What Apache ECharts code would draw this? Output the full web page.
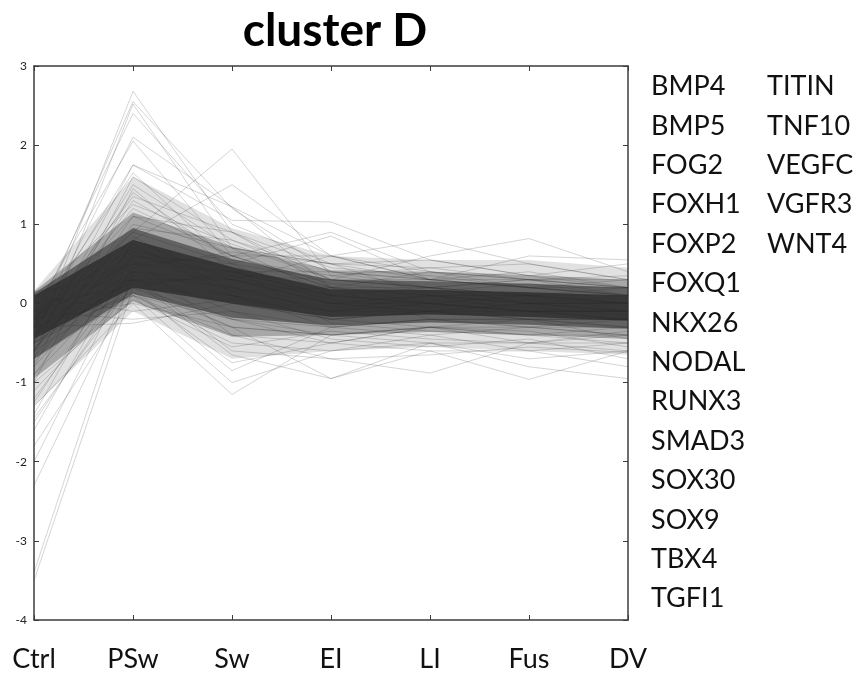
<!DOCTYPE html>
<html>
<head>
<meta charset="utf-8">
<script src="https://cdn.jsdelivr.net/npm/echarts@6/dist/echarts.min.js"></script>
<style>
  html, body { margin: 0; padding: 0; background: #fff; }
  #main { width: 857px; height: 675px; }
</style>
</head>
<body>
<div id="main"></div>
<script>
// stages on the x axis
const stages = ["Ctrl", "PSw", "Sw", "EI", "LI", "Fus", "DV"];
const yTicks = { min: -4, max: 3, step: 1 };

// genes listed to the right of the plot
const genesLeft = ["BMP4", "BMP5", "FOG2", "FOXH1", "FOXP2", "FOXQ1", "NKX26",
  "NODAL", "RUNX3", "SMAD3", "SOX30", "SOX9", "TBX4", "TGFI1"];
const genesRight = ["TITIN", "TNF10", "VEGFC", "VGFR3", "WNT4"];

// density of the overlapping profiles, as nested bands (lower / upper edge per stage)
const outerLow = [-1.3, -0.1, -0.7, -0.6, -0.55, -0.6, -0.65];
const outerHigh = [0.16, 1.6, 0.95, 0.6, 0.55, 0.55, 0.45];
const midLow = [-0.95, 0.02, -0.42, -0.4, -0.36, -0.4, -0.45];
const midHigh = [0.15, 1.15, 0.72, 0.42, 0.4, 0.36, 0.3];
const innerLow = [-0.7, 0.12, -0.18, -0.28, -0.24, -0.27, -0.32];
const innerHigh = [0.13, 0.95, 0.56, 0.3, 0.28, 0.25, 0.2];
const coreLow = [-0.45, 0.2, 0.0, -0.17, -0.14, -0.17, -0.22];
const coreHigh = [0.1, 0.8, 0.46, 0.18, 0.17, 0.14, 0.1];

// profiles peaking high at PSw
const highPSw = [
  [-0.5, 2.68, 0.9, 0.3, 0.2, 0.1, 0.0],
  [-0.3, 2.55, 1.2, 0.4, 0.3, 0.2, 0.1],
  [-0.7, 2.52, 0.7, 0.1, 0.0, -0.1, -0.1],
  [-0.2, 2.4, 1.0, 0.5, 0.3, 0.3, 0.2],
  [-0.4, 2.1, 1.22, 0.2, 0.1, 0.0, -0.1],
  [-0.1, 2.05, 0.6, 0.2, 0.2, 0.1, 0.0],
  [-0.6, 1.75, 1.05, 1.03, 0.55, 0.35, 0.2],
  [-0.3, 1.75, 1.22, 0.6, 0.3, 0.2, 0.1],
  [-0.2, 1.65, 0.5, 0.0, 0.0, -0.1, -0.1],
  [-0.8, 1.6, 0.8, 0.3, 0.2, 0.3, 0.1],
  [-0.5, 1.5, 0.7, 0.5, 0.1, 0.0, -0.1],
  [-1.0, 1.45, 0.4, 0.1, 0.0, 0.1, 0.0],
  [-0.3, 1.35, 0.9, 0.2, 0.4, 0.2, 0.1],
  [-0.6, 1.3, 0.6, 0.6, 0.3, 0.4, 0.2],
  [0.05, 1.25, 0.75, 0.3, 0.2, 0.0, 0.0],
  [-0.45, 1.4, 0.55, 0.35, 0.45, 0.3, 0.35]
];

// profiles starting very low at Ctrl
const lowCtrl = [
  [-3.5, 0.2, 0.1, -0.1, 0.0, -0.1, -0.2],
  [-3.4, 0.4, 0.2, 0.0, -0.1, 0.0, -0.1],
  [-2.3, 0.3, 0.0, -0.2, -0.1, -0.2, -0.2],
  [-2.0, 0.5, 0.3, 0.0, 0.1, 0.0, 0.0],
  [-1.8, 0.1, -0.2, -0.3, -0.2, -0.3, -0.3],
  [-1.6, 0.6, 0.4, 0.1, 0.0, -0.1, -0.1],
  [-1.5, 0.35, 0.2, -0.1, -0.1, -0.2, -0.2],
  [-1.4, 0.8, 0.3, 0.0, 0.1, 0.1, 0.0],
  [-1.3, 0.0, -0.3, -0.4, -0.3, -0.4, -0.4],
  [-1.2, 0.45, 0.1, -0.2, -0.1, -0.1, -0.2],
  [-1.1, 0.2, 0.4, 0.2, 0.0, 0.1, -0.1],
  [-1.0, 0.05, -0.55, -0.35, -0.45, -0.5, -0.35],
  [-1.45, 0.25, 0.35, 0.05, -0.05, 0.05, 0.0],
  [-1.25, 0.65, 0.15, -0.05, 0.05, -0.05, -0.15]
];

// profiles low in the later stages
const lowLate = [
  [-0.3, -0.25, 0.0, -0.2, -0.1, -0.2, -0.3],
  [-0.1, -0.2, -0.1, -0.3, -0.2, -0.2, -0.2],
  [0.1, -0.1, 0.05, -0.1, 0.0, -0.1, -0.2],
  [-0.2, 0.0, -1.15, -0.4, -0.3, -0.4, -0.5],
  [-0.4, 0.1, -1.0, -0.6, -0.5, -0.5, -0.6],
  [0.0, 0.2, -0.85, -0.3, -0.4, -0.3, -0.4],
  [-0.5, 0.15, -0.75, -0.5, -0.3, -0.5, -0.4],
  [-0.1, 0.3, -0.65, -0.95, -0.6, -0.6, -0.5],
  [-0.6, 0.2, -0.3, -0.95, -0.5, -0.7, -0.6],
  [-0.3, 0.1, -0.4, -0.7, -0.88, -0.5, -0.5],
  [-0.5, 0.3, -0.2, -0.5, -0.6, -0.96, -0.6],
  [-0.2, 0.25, -0.3, -0.4, -0.5, -0.8, -0.95],
  [-0.7, 0.1, -0.5, -0.6, -0.4, -0.6, -0.8],
  [-0.4, 0.4, -0.1, -0.45, -0.55, -0.45, -0.7],
  [-0.35, 0.55, -0.4, -0.5, -0.3, -0.35, -0.55],
  [-0.55, 0.35, -0.6, -0.7, -0.65, -0.55, -0.62]
];

// profiles high in the later stages
const highLate = [
  [-0.3, 1.2, 0.6, 0.9, 0.4, 0.3, 0.3],
  [-0.2, 0.9, 0.5, 0.85, 0.3, 0.2, 0.2],
  [-0.5, 0.7, 0.3, 0.6, 0.8, 0.5, 0.3],
  [-0.4, 0.6, 0.35, 0.3, 0.6, 0.82, 0.4],
  [-0.1, 0.5, 0.4, 0.4, 0.3, 0.6, 0.55],
  [-0.6, 1.0, 0.7, 0.5, 0.55, 0.35, 0.5],
  [-0.2, 0.8, 1.5, 0.6, 0.4, 0.3, 0.2],
  [-0.4, 0.9, 1.95, 0.35, 0.2, 0.1, 0.1],
  [-0.15, 0.45, 0.65, 0.5, 0.45, 0.5, 0.3]
];

// profiles inside the main band
const midLines = [
  [-0.8, 0.6, 0.5, 0.3, 0.3, 0.2, 0.1],
  [-0.9, 0.4, 0.3, 0.1, 0.2, 0.0, 0.0],
  [-0.7, 1.1, 0.6, 0.2, 0.1, 0.1, 0.2],
  [-0.6, 0.95, 0.8, 0.4, 0.2, 0.3, 0.2],
  [-0.5, 0.3, 0.1, -0.2, -0.3, -0.2, -0.3],
  [-0.3, 0.2, -0.2, -0.4, -0.3, -0.3, -0.4],
  [-0.2, 1.1, 0.9, 0.45, 0.35, 0.2, 0.3],
  [-0.1, 0.7, 0.2, -0.1, 0.1, -0.1, -0.1],
  [0.1, 0.5, 0.6, 0.25, 0.15, 0.25, 0.1],
  [0.15, 0.3, 0.3, 0.0, -0.1, 0.0, 0.1],
  [-0.9, 0.75, 0.1, -0.3, -0.2, -0.3, -0.2],
  [-0.25, 0.65, 0.45, -0.25, -0.35, -0.4, -0.3],
  [-0.75, 0.85, 0.15, 0.2, -0.2, -0.2, -0.45]
];

const lineColor = "rgba(45,45,45,0.2)";
const axisColor = "#3c3c3c";

function bandSeries(id, low, high, color) {
  return [
    {
      type: "line", stack: id, stackStrategy: "all", data: low,
      symbol: "none", silent: true, lineStyle: { opacity: 0 }, z: 1
    },
    {
      type: "line", stack: id, stackStrategy: "all",
      data: high.map((v, i) => +(v - low[i]).toFixed(3)),
      symbol: "none", silent: true, lineStyle: { opacity: 0 },
      areaStyle: { color: color, opacity: 1 }, z: 1
    }
  ];
}

let series = [];
series = series.concat(bandSeries("outer", outerLow, outerHigh, "rgba(51,51,51,0.15)"));
series = series.concat(bandSeries("mid", midLow, midHigh, "rgba(51,51,51,0.32)"));
series = series.concat(bandSeries("inner", innerLow, innerHigh, "rgba(51,51,51,0.6)"));
series = series.concat(bandSeries("core", coreLow, coreHigh, "rgba(51,51,51,0.9)"));

const allLines = [].concat(highPSw, lowCtrl, lowLate, highLate, midLines);
for (let i = 0; i < allLines.length; i++) {
  series.push({
    type: "line",
    data: allLines[i],
    symbol: "none",
    silent: true,
    lineStyle: { color: lineColor, width: 1 },
    z: 2
  });
}

const graphics = [];
const rowGap = 39.4;
for (let i = 0; i < genesLeft.length; i++) {
  graphics.push({
    type: "text", left: 651, top: 73 + i * rowGap,
    style: { text: genesLeft[i], font: "27px Lato", fill: "#111" }
  });
}
for (let i = 0; i < genesRight.length; i++) {
  graphics.push({
    type: "text", left: 767, top: 73 + i * rowGap,
    style: { text: genesRight[i], font: "27px Lato", fill: "#111" }
  });
}

const chart = echarts.init(document.getElementById("main"));
chart.setOption({
  animation: false,
  backgroundColor: "#fff",
  title: {
    text: "cluster D",
    left: 330,
    top: 3,
    textAlign: "center",
    textStyle: { fontFamily: "Lato", fontSize: 46, fontWeight: "bold", color: "#000" }
  },
  grid: { left: 34, right: 229, top: 66, bottom: 55 },
  xAxis: [
    {
      type: "category", data: stages, boundaryGap: false,
      axisLine: { onZero: false, lineStyle: { color: axisColor, width: 1.5 } },
      axisTick: { inside: true, length: 5, lineStyle: { color: axisColor } },
      axisLabel: { fontFamily: "Lato", fontSize: 27, color: "#111", margin: 26 },
      splitLine: { show: false }
    },
    {
      type: "category", data: stages, boundaryGap: false, position: "top",
      axisLine: { onZero: false, lineStyle: { color: axisColor, width: 1.5 } },
      axisTick: { inside: true, length: 5, lineStyle: { color: axisColor } },
      axisLabel: { show: false },
      splitLine: { show: false }
    }
  ],
  yAxis: [
    {
      type: "value", min: yTicks.min, max: yTicks.max, interval: yTicks.step,
      axisLine: { show: true, lineStyle: { color: axisColor, width: 1.5 } },
      axisTick: { show: true, inside: true, length: 5, lineStyle: { color: axisColor } },
      axisLabel: { fontFamily: "Lato", fontSize: 12, color: "#222", margin: 7 },
      splitLine: { show: false }
    },
    {
      type: "value", min: yTicks.min, max: yTicks.max, interval: yTicks.step,
      position: "right",
      axisLine: { show: true, lineStyle: { color: axisColor, width: 1.5 } },
      axisTick: { show: true, inside: true, length: 5, lineStyle: { color: axisColor } },
      axisLabel: { show: false },
      splitLine: { show: false }
    }
  ],
  graphic: graphics,
  series: series
});
</script>
</body>
</html>
